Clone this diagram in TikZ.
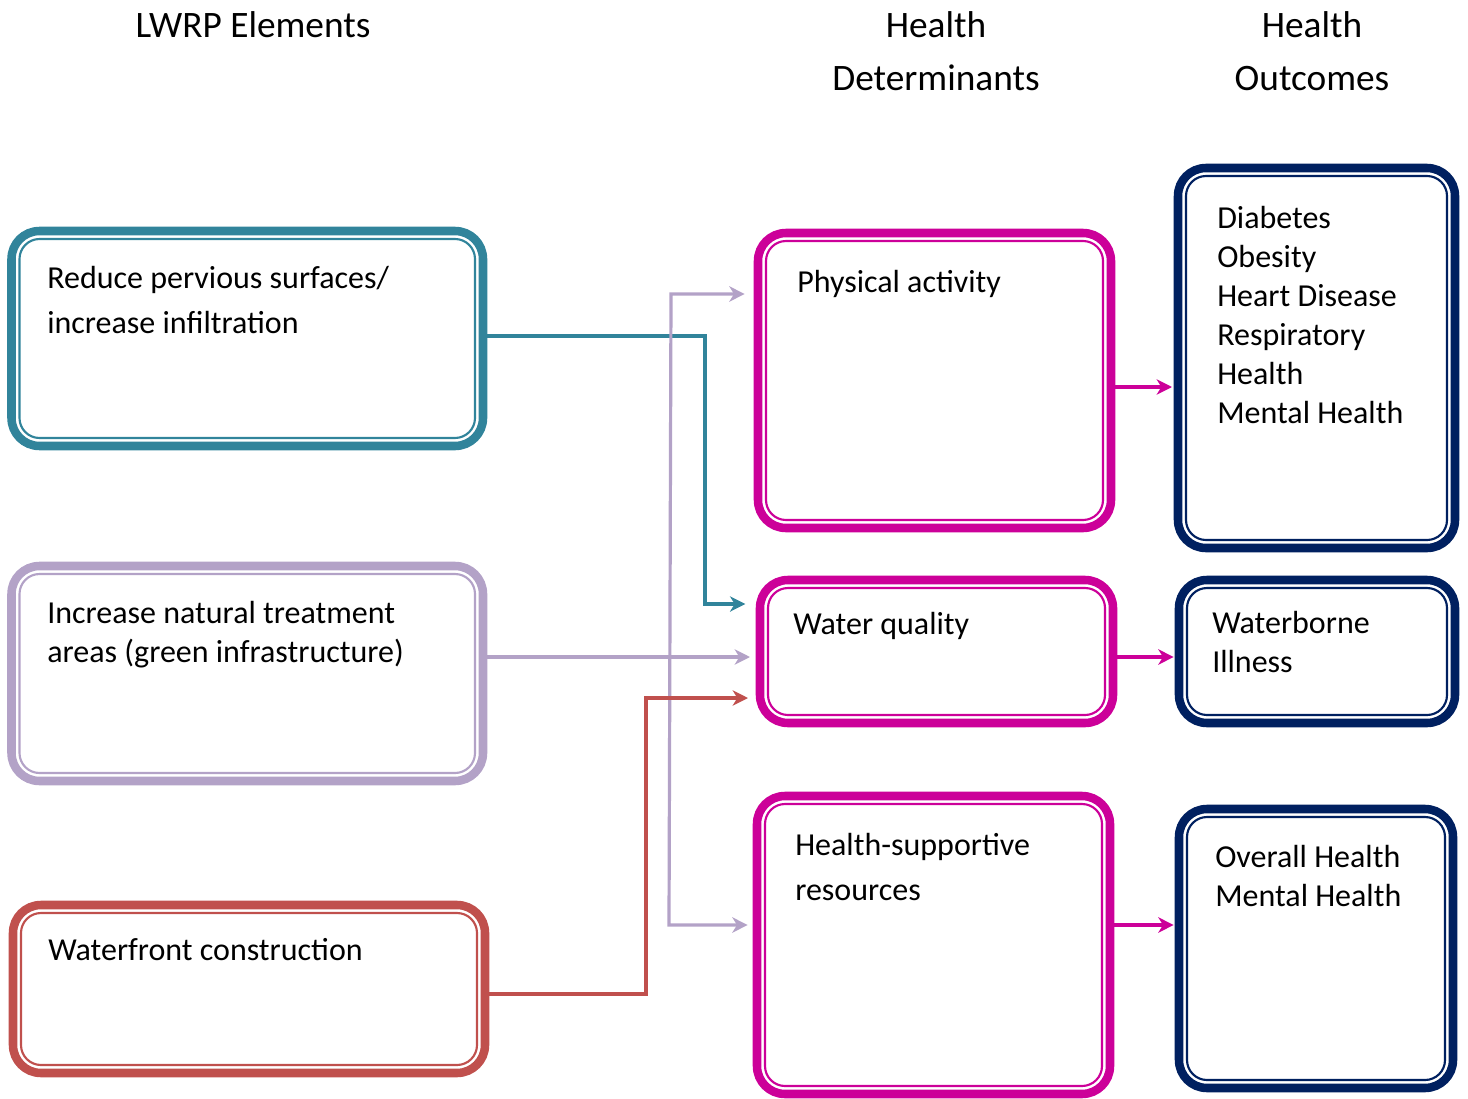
\documentclass[tikz,border=0pt]{standalone}
\usepackage{fontspec}
\setmainfont{Carlito}
\usetikzlibrary{arrows.meta}
\definecolor{tealc}{HTML}{31849B}
\definecolor{lavc}{HTML}{B3A2C7}
\definecolor{redc}{HTML}{C0504D}
\definecolor{magc}{HTML}{CC0099}
\definecolor{navyc}{HTML}{002060}

% double-bordered rounded box: name, colour, left, top, right, bottom
\newcommand\dbox[6]{%
  \node[obox, draw=#2, minimum width={(#5-#3)*0.75pt}, minimum height={(#6-#4)*0.75pt}]
    (#1) at ({(#3+#5)/2},{(#4+#6)/2}) {};
  \node[ibox, draw=#2, minimum width={(#5-#3-16)*0.75pt}, minimum height={(#6-#4-16)*0.75pt}]
    (#1-in) at (#1.center) {};
}

\begin{document}
\begin{tikzpicture}[x=0.75pt,y=-0.75pt,
  obox/.style={rectangle, rounded corners=21pt, line width=6.4pt, inner sep=0pt, outer sep=0pt},
  ibox/.style={rectangle, rounded corners=15pt, line width=1.6pt, inner sep=0pt, outer sep=0pt},
  lbl/.style={anchor=base west, inner sep=0pt, font=\fontsize{24}{29}\selectfont},
  head/.style={anchor=base, inner sep=0pt, font=\fontsize{28}{34}\selectfont},
  tip/.style={-{Stealth[length=11.5pt,width=11.5pt,inset=3.5pt]}},
  conn/.style={line width=2.4pt, tip},
]
\useasboundingbox (0,0) rectangle (1468,1099);

% column headings
\node[head] (h1)  at (253,38)  {LWRP Elements};
\node[head] (h2a) at (936,38)  {Health};
\node[head] (h2b) at (936,91)  {Determinants};
\node[head] (h3a) at (1312,38) {Health};
\node[head] (h3b) at (1312,91) {Outcomes};

% LWRP elements
\dbox{tl}{tealc}{11.5}{231}{483}{446}
\dbox{lv}{lavc}{11.5}{566}{483}{781}
\dbox{rd}{redc}{13}{905}{485}{1073}

% health determinants
\dbox{m1}{magc}{758}{233}{1111}{528}
\dbox{m2}{magc}{760}{580}{1113}{723}
\dbox{m3}{magc}{757}{796}{1110}{1094}

% health outcomes
\dbox{n1}{navyc}{1178}{168}{1455}{548}
\dbox{n2}{navyc}{1179}{580}{1455}{723}
\dbox{n3}{navyc}{1179}{809}{1453}{1088}

% box texts
\node[lbl] (t1a) at (47,288)  {Reduce pervious surfaces/};
\node[lbl] (t1b) at (47,333)  {increase infiltration};
\node[lbl] (t2a) at (47,623)  {Increase natural treatment};
\node[lbl] (t2b) at (47,662)  {areas (green infrastructure)};
\node[lbl] (t3a) at (48,960)  {Waterfront construction};

\node[lbl] (d1)  at (797,292) {Physical activity};
\node[lbl] (d2)  at (793,634) {Water quality};
\node[lbl] (d3a) at (795,855) {Health-supportive};
\node[lbl] (d3b) at (795,900) {resources};

\node[lbl] (o1a) at (1217,228) {Diabetes};
\node[lbl] (o1b) at (1217,267) {Obesity};
\node[lbl] (o1c) at (1217,306) {Heart Disease};
\node[lbl] (o1d) at (1217,345) {Respiratory};
\node[lbl] (o1e) at (1217,384) {Health};
\node[lbl] (o1f) at (1217,423) {Mental Health};
\node[lbl] (o2a) at (1212,633) {Waterborne};
\node[lbl] (o2b) at (1212,672) {Illness};
\node[lbl] (o3a) at (1215,867) {Overall Health};
\node[lbl] (o3b) at (1215,906) {Mental Health};

% connectors from LWRP elements to determinants
\draw[conn, tealc, shorten >=11pt] (tl.east |- 0,336) -- (705,336) |- (m2.west |- 0,604);
\draw[conn, lavc, shorten >=7.5pt] (lv.east |- 0,657) -- (m2.west |- 0,657);
\draw[lavc, line width=2.4pt, {Stealth[length=11.5pt,width=11.5pt,inset=3.5pt]}-{Stealth[length=11.5pt,width=11.5pt,inset=3.5pt]},
      shorten <=10pt, shorten >=7pt]
  (m1.west |- 0,294) -- (671,294) -- (669,925) -- (m3.west |- 0,925);
\draw[conn, redc, shorten >=9pt] (rd.east |- 0,994) -- (646,994) |- (m2.west |- 0,698);

% connectors from determinants to outcomes
\draw[conn, magc, shorten >=4.5pt] (m1.east |- 0,387) -- (n1.west |- 0,387);
\draw[conn, magc, shorten >=4pt] (m2.east |- 0,657) -- (n2.west |- 0,657);
\draw[conn, magc, shorten >=4pt] (m3.east |- 0,925) -- (n3.west |- 0,925);
\end{tikzpicture}
\end{document}
